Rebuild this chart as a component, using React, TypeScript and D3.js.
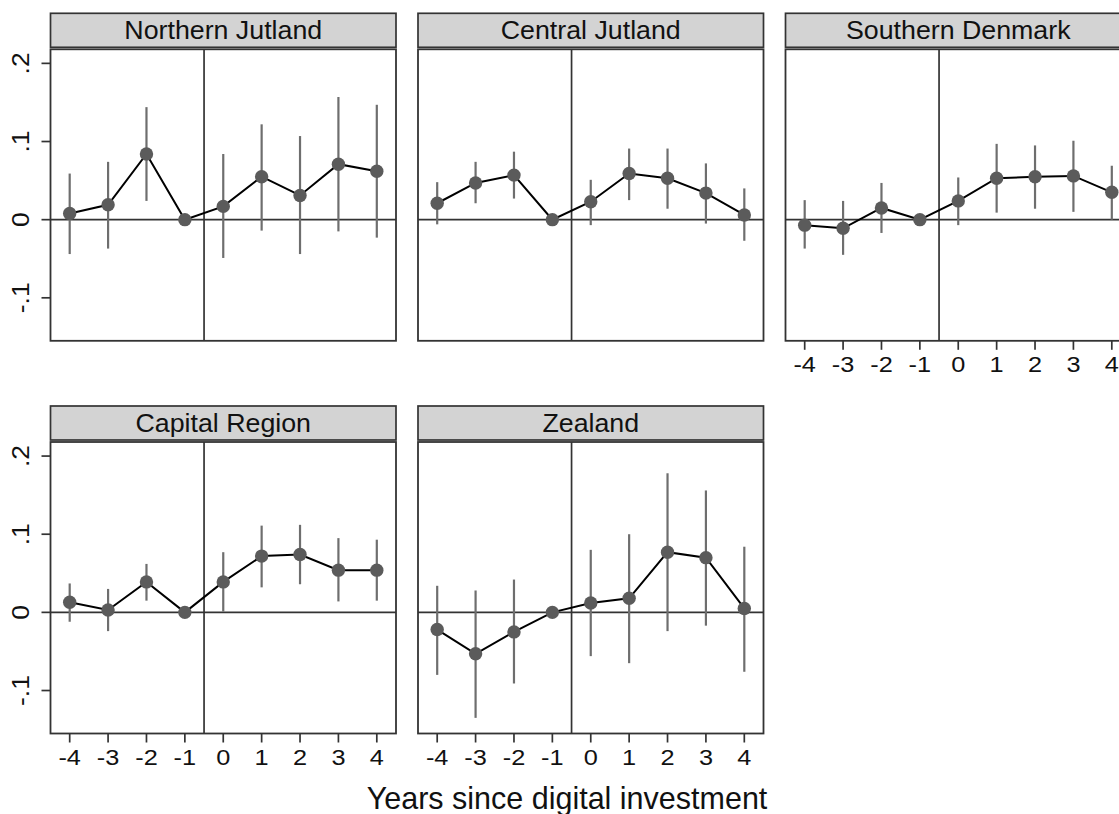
import React from "react";
import * as d3 from "d3";

const years = [-4, -3, -2, -1, 0, 1, 2, 3, 4];
const regions = ["Northern Jutland", "Central Jutland", "Southern Denmark", "Capital Region", "Zealand"];

// point estimates, lower and upper 95% bounds per region
const northEst = [0.008, 0.019, 0.084, 0, 0.017, 0.055, 0.031, 0.071, 0.062];
const northLo = [-0.044, -0.037, 0.024, 0, -0.049, -0.014, -0.044, -0.015, -0.023];
const northHi = [0.059, 0.074, 0.144, 0, 0.084, 0.122, 0.107, 0.157, 0.147];

const centralEst = [0.021, 0.047, 0.057, 0, 0.023, 0.059, 0.053, 0.034, 0.006];
const centralLo = [-0.006, 0.021, 0.027, 0, -0.007, 0.025, 0.014, -0.005, -0.027];
const centralHi = [0.048, 0.074, 0.087, 0, 0.051, 0.091, 0.091, 0.072, 0.04];

const southEst = [-0.007, -0.011, 0.015, 0, 0.024, 0.053, 0.055, 0.056, 0.035];
const southLo = [-0.037, -0.045, -0.017, 0, -0.007, 0.009, 0.014, 0.01, 0.0];
const southHi = [0.025, 0.024, 0.047, 0, 0.054, 0.097, 0.095, 0.101, 0.069];

const capitalEst = [0.013, 0.003, 0.039, 0, 0.039, 0.072, 0.074, 0.054, 0.054];
const capitalLo = [-0.012, -0.024, 0.015, 0, 0.001, 0.032, 0.036, 0.014, 0.015];
const capitalHi = [0.037, 0.03, 0.062, 0, 0.077, 0.111, 0.112, 0.095, 0.093];

const zealandEst = [-0.022, -0.053, -0.025, 0, 0.012, 0.018, 0.077, 0.07, 0.005];
const zealandLo = [-0.08, -0.135, -0.091, 0, -0.056, -0.065, -0.024, -0.017, -0.076];
const zealandHi = [0.034, 0.028, 0.042, 0, 0.08, 0.1, 0.178, 0.156, 0.084];

const yTicks = [-0.1, 0, 0.1, 0.2];
const yTickLabels = ["-.1", "0", ".1", ".2"];
const xTitle = "Years since digital investment";

const est = [northEst, centralEst, southEst, capitalEst, zealandEst];
const lo = [northLo, centralLo, southLo, capitalLo, zealandLo];
const hi = [northHi, centralHi, southHi, capitalHi, zealandHi];

const W = 1119;
const H = 814;
const panelW = 345.5;
const colLeft = [50.5, 418, 785.5];
const rowTop = [13.3, 406];
const headH = 34;
const plotH = 291.5;
const font = "Liberation Sans, Arial, Helvetica, sans-serif";

function Panel(props: { i: number }) {
  const i = props.i;
  const col = i % 3;
  const row = Math.floor(i / 3);
  const left = colLeft[col];
  const top = rowTop[row] + headH + 2;
  const x = d3.scaleLinear().domain([-4.5, 4.5]).range([left, left + panelW]);
  const y = d3.scaleLinear().domain([-0.155, 0.218]).range([top + plotH, top]);
  const line = d3
    .line<number>()
    .x((d, k) => x(years[k]))
    .y((d) => y(d));
  // x axis only where no panel sits below
  const showX = row === 1 || col === 2;
  const showY = col === 0;
  const bottom = top + plotH;
  return (
    <g>
      <rect x={left} y={rowTop[row]} width={panelW} height={headH} fill="#d3d3d3" stroke="#333" strokeWidth={1.7} />
      <text
        transform={`translate(${left + panelW / 2},${rowTop[row] + 26}) scale(1.05,1)`}
        textAnchor="middle"
        fontFamily={font}
        fontSize={25.5}
        fill="#111"
      >
        {regions[i]}
      </text>
      <rect x={left} y={top} width={panelW} height={plotH} fill="#fff" stroke="#333" strokeWidth={1.8} />
      <line x1={left} x2={left + panelW} y1={y(0)} y2={y(0)} stroke="#333" strokeWidth={1.7} />
      <line x1={x(-0.5)} x2={x(-0.5)} y1={top} y2={bottom} stroke="#333" strokeWidth={1.7} />
      {years.map((yr, k) =>
        hi[i][k] !== lo[i][k] ? (
          <line key={"e" + k} x1={x(yr)} x2={x(yr)} y1={y(lo[i][k])} y2={y(hi[i][k])} stroke="#6e6e6e" strokeWidth={2.2} />
        ) : null
      )}
      <path d={line(est[i]) || ""} fill="none" stroke="#000" strokeWidth={2} />
      {years.map((yr, k) => (
        <circle key={"p" + k} cx={x(yr)} cy={y(est[i][k])} r={6.7} fill="#5b5b5b" />
      ))}
      {showY &&
        yTicks.map((t, k) => (
          <g key={"y" + k}>
            <line x1={left - 9} x2={left} y1={y(t)} y2={y(t)} stroke="#333" strokeWidth={1.7} />
            <text
              transform={`translate(${left - 22},${y(t)}) rotate(-90) scale(1.15,1)`}
              textAnchor="middle"
              fontFamily={font}
              fontSize={23}
              fill="#111"
            >
              {yTickLabels[k]}
            </text>
          </g>
        ))}
      {showX &&
        years.map((yr, k) => (
          <g key={"x" + k}>
            <line x1={x(yr)} x2={x(yr)} y1={bottom} y2={bottom + 9} stroke="#333" strokeWidth={1.7} />
            <text
              transform={`translate(${x(yr)},${bottom + 31.5}) scale(1.15,1)`}
              textAnchor="middle"
              fontFamily={font}
              fontSize={22}
              fill="#111"
            >
              {yr}
            </text>
          </g>
        ))}
    </g>
  );
}

export default function App() {
  return (
    <svg width={W} height={H} style={{ position: "absolute", left: 0, top: 0, background: "#fff" }}>
      <rect width={W} height={H} fill="#fff" />
      {regions.map((r, i) => (
        <Panel key={r} i={i} />
      ))}
      <text x={567} y={808.5} textAnchor="middle" fontFamily={font} fontSize={30.5} fill="#111">
        {xTitle}
      </text>
    </svg>
  );
}
